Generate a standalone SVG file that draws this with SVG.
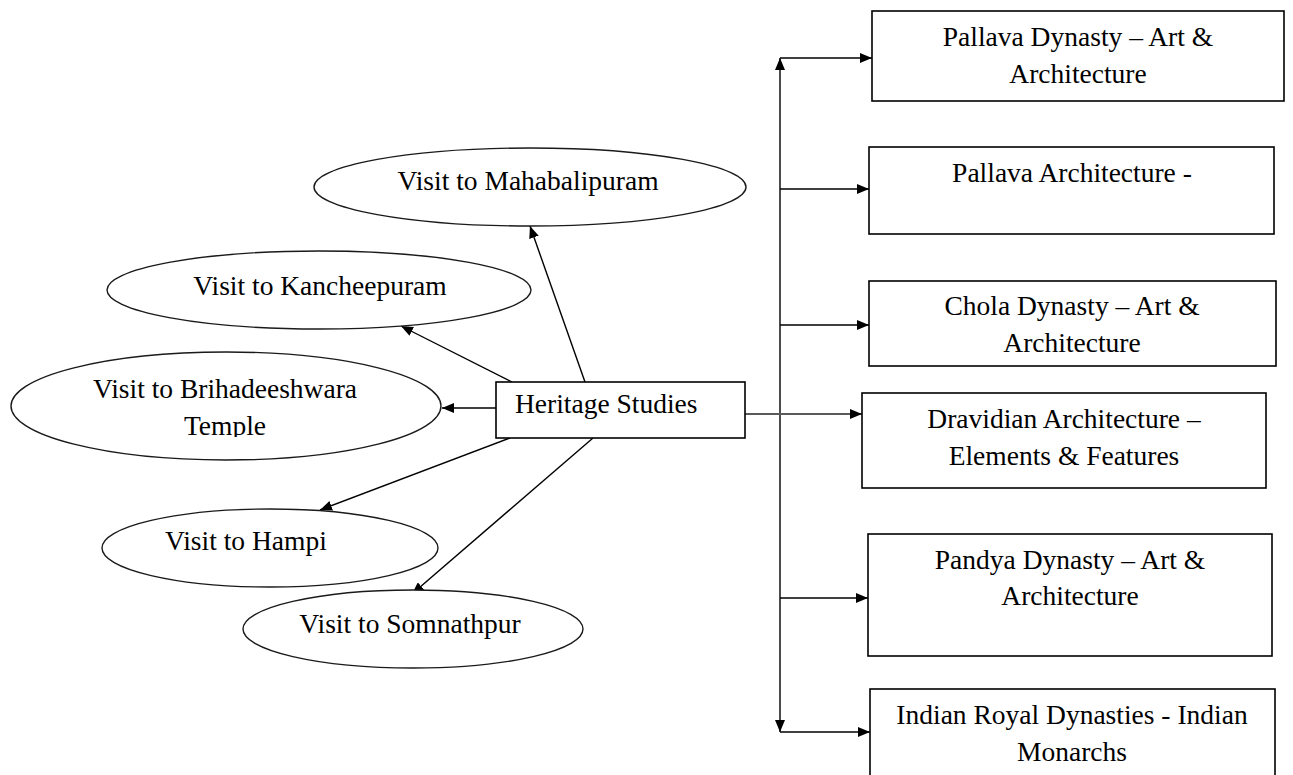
<svg xmlns="http://www.w3.org/2000/svg" width="1293" height="775" viewBox="0 0 1293 775">
  <style>
    .box { fill: #ffffff; stroke: #000000; stroke-width: 1.6; }
    .oval { fill: #ffffff; stroke: #1a1a1a; stroke-width: 1.4; }
    .lbl { font-family: "Liberation Serif", "Times New Roman", serif; font-size: 27.5px; fill: #000000; }
    .mid { text-anchor: middle; }
    .link { fill: none; stroke: #000000; stroke-width: 1.4; }
    .link-grey { fill: none; stroke: #5a5a5a; stroke-width: 2; }
  </style>
  <defs>
    <marker id="arrow" viewBox="0 0 12 10" refX="12" refY="5" markerWidth="12" markerHeight="10" markerUnits="userSpaceOnUse" orient="auto">
      <path d="M0,0 L12,5 L0,10 Z" fill="#000000"/>
    </marker>
    <marker id="arrow-start" viewBox="0 0 12 10" refX="0" refY="5" markerWidth="12" markerHeight="10" markerUnits="userSpaceOnUse" orient="auto">
      <path d="M12,0 L0,5 L12,10 Z" fill="#000000"/>
    </marker>
    <clipPath id="clip-temple">
      <rect x="0" y="340" width="460" height="97"/>
    </clipPath>
  </defs>

  <rect width="1293" height="775" fill="#ffffff"/>

  <!-- connectors -->
  <g id="connectors">
    <!-- left fan from the central box to the visit ovals -->
    <line class="link" x1="585" y1="382" x2="530" y2="226" marker-end="url(#arrow)"/>
    <line class="link" x1="512" y1="382" x2="401" y2="326" marker-end="url(#arrow)"/>
    <line class="link" x1="496" y1="408" x2="442" y2="408" marker-end="url(#arrow)"/>
    <line class="link" x1="510" y1="438" x2="320" y2="510" marker-end="url(#arrow)"/>
    <line class="link" x1="593" y1="438" x2="412" y2="594" marker-end="url(#arrow)"/>
    <!-- right spine with branches to the topic boxes -->
    <line class="link" x1="780" y1="732" x2="780" y2="58" marker-start="url(#arrow-start)" marker-end="url(#arrow)"/>
    <line class="link" x1="780" y1="58" x2="872" y2="58" marker-end="url(#arrow)"/>
    <line class="link" x1="780" y1="189" x2="869" y2="189" marker-end="url(#arrow)"/>
    <line class="link" x1="780" y1="325" x2="869" y2="325" marker-end="url(#arrow)"/>
    <line class="link-grey" x1="745" y1="414" x2="862" y2="414" marker-end="url(#arrow)"/>
    <line class="link" x1="780" y1="598" x2="868" y2="598" marker-end="url(#arrow)"/>
    <line class="link" x1="780" y1="732" x2="870" y2="732" marker-end="url(#arrow)"/>
  </g>

  <!-- central node -->
  <g id="heritage-studies">
    <rect class="box" x="496" y="382" width="249" height="56"/>
    <text class="lbl" x="515" y="413">Heritage Studies</text>
  </g>

  <!-- visit ovals -->
  <g id="visit-mahabalipuram">
    <ellipse class="oval" cx="530" cy="187" rx="216" ry="39"/>
    <text class="lbl mid" x="528" y="190">Visit to Mahabalipuram</text>
  </g>
  <g id="visit-kancheepuram">
    <ellipse class="oval" cx="319" cy="290" rx="212" ry="39"/>
    <text class="lbl mid" x="320" y="295">Visit to Kancheepuram</text>
  </g>
  <g id="visit-brihadeeshwara">
    <ellipse class="oval" cx="226" cy="406" rx="215" ry="54"/>
    <g clip-path="url(#clip-temple)">
      <text class="lbl mid" x="225" y="398">Visit to Brihadeeshwara</text>
      <text class="lbl mid" x="225" y="435">Temple</text>
    </g>
  </g>
  <g id="visit-hampi">
    <ellipse class="oval" cx="270" cy="548" rx="168" ry="39"/>
    <text class="lbl" x="165" y="550">Visit to Hampi</text>
  </g>
  <g id="visit-somnathpur">
    <ellipse class="oval" cx="413" cy="629" rx="170" ry="39"/>
    <text class="lbl mid" x="410" y="633">Visit to Somnathpur</text>
  </g>

  <!-- topic boxes -->
  <g id="pallava-dynasty">
    <rect class="box" x="872" y="11" width="412" height="90"/>
    <text class="lbl mid" x="1078" y="46">Pallava Dynasty – Art &amp;</text>
    <text class="lbl mid" x="1078" y="83">Architecture</text>
  </g>
  <g id="pallava-architecture">
    <rect class="box" x="869" y="147" width="405" height="87"/>
    <text class="lbl mid" x="1072" y="182">Pallava Architecture -</text>
  </g>
  <g id="chola-dynasty">
    <rect class="box" x="869" y="281" width="407" height="85"/>
    <text class="lbl mid" x="1072" y="315">Chola Dynasty – Art &amp;</text>
    <text class="lbl mid" x="1072" y="352">Architecture</text>
  </g>
  <g id="dravidian-architecture">
    <rect class="box" x="862" y="393" width="404" height="95"/>
    <text class="lbl mid" x="1064" y="428">Dravidian Architecture –</text>
    <text class="lbl mid" x="1064" y="465">Elements &amp; Features</text>
  </g>
  <g id="pandya-dynasty">
    <rect class="box" x="868" y="534" width="404" height="122"/>
    <text class="lbl mid" x="1070" y="569">Pandya Dynasty – Art &amp;</text>
    <text class="lbl mid" x="1070" y="605">Architecture</text>
  </g>
  <g id="indian-royal-dynasties">
    <rect class="box" x="870" y="689" width="405" height="110"/>
    <text class="lbl mid" x="1072" y="724">Indian Royal Dynasties - Indian</text>
    <text class="lbl mid" x="1072" y="761">Monarchs</text>
  </g>
</svg>
